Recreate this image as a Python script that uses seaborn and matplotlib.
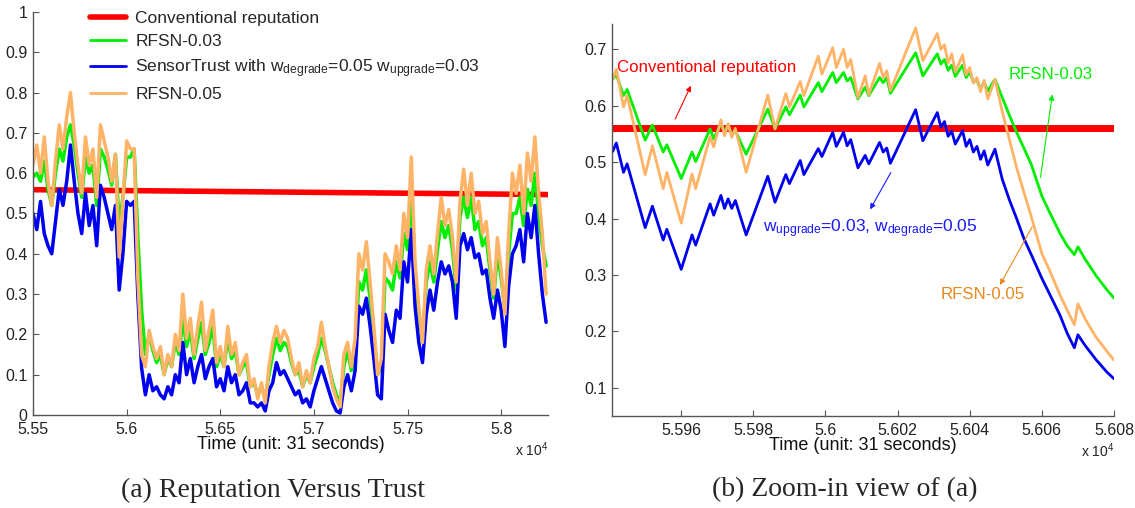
import numpy as np
import pandas as pd
import matplotlib
matplotlib.use("Agg")
import matplotlib.pyplot as plt
import seaborn as sns
from matplotlib.ticker import FixedLocator, FuncFormatter
from matplotlib.lines import Line2D

# ---------------- data : panel (a) ----------------
TIME_L = np.arange(55500, 58241, 20)
RED_L_T = [55500, 58250]
RED_L_V = [0.559, 0.547]
ORANGE_L = [0.62, 0.67, 0.60, 0.69, 0.58, 0.52, 0.63, 0.72, 0.66, 0.74,
            0.80, 0.70, 0.62, 0.55, 0.69, 0.62, 0.66, 0.54, 0.72, 0.68,
            0.64, 0.58, 0.647, 0.392, 0.53, 0.68, 0.66, 0.66, 0.338, 0.149,
            0.12, 0.21, 0.17, 0.14, 0.17, 0.10, 0.15, 0.12, 0.20, 0.16,
            0.30, 0.19, 0.24, 0.15, 0.22, 0.28, 0.16, 0.21, 0.26, 0.13,
            0.17, 0.12, 0.22, 0.15, 0.18, 0.10, 0.13, 0.15, 0.07, 0.09,
            0.04, 0.08, 0.03, 0.12, 0.18, 0.22, 0.18, 0.21, 0.19, 0.14,
            0.10, 0.13, 0.07, 0.11, 0.08, 0.14, 0.17, 0.23, 0.17, 0.12,
            0.07, 0.04, 0.02, 0.15, 0.18, 0.12, 0.19, 0.40, 0.36, 0.43,
            0.33, 0.22, 0.10, 0.14, 0.40, 0.38, 0.35, 0.42, 0.36, 0.50,
            0.44, 0.64, 0.38, 0.27, 0.18, 0.36, 0.42, 0.35, 0.45, 0.54,
            0.47, 0.51, 0.44, 0.33, 0.53, 0.61, 0.52, 0.60, 0.50, 0.53,
            0.45, 0.48, 0.38, 0.30, 0.44, 0.36, 0.25, 0.45, 0.60, 0.55,
            0.62, 0.50, 0.65, 0.58, 0.69, 0.55, 0.45, 0.30]
GREEN_L = [0.59, 0.60, 0.58, 0.63, 0.56, 0.52, 0.60, 0.66, 0.63, 0.69,
           0.72, 0.67, 0.60, 0.54, 0.64, 0.60, 0.62, 0.52, 0.66, 0.64,
           0.61, 0.57, 0.647, 0.471, 0.54, 0.64, 0.64, 0.66, 0.44, 0.259,
           0.15, 0.20, 0.16, 0.13, 0.15, 0.10, 0.14, 0.12, 0.18, 0.15,
           0.24, 0.17, 0.21, 0.14, 0.19, 0.23, 0.15, 0.18, 0.22, 0.12,
           0.15, 0.12, 0.19, 0.14, 0.16, 0.10, 0.12, 0.13, 0.07, 0.08,
           0.05, 0.07, 0.04, 0.10, 0.15, 0.19, 0.16, 0.18, 0.17, 0.13,
           0.10, 0.11, 0.07, 0.10, 0.08, 0.12, 0.15, 0.19, 0.16, 0.12,
           0.08, 0.05, 0.03, 0.12, 0.16, 0.11, 0.16, 0.33, 0.31, 0.36,
           0.29, 0.20, 0.10, 0.12, 0.34, 0.33, 0.31, 0.38, 0.34, 0.45,
           0.41, 0.55, 0.35, 0.25, 0.18, 0.33, 0.38, 0.33, 0.41, 0.48,
           0.44, 0.47, 0.41, 0.31, 0.49, 0.54, 0.49, 0.54, 0.46, 0.48,
           0.42, 0.44, 0.36, 0.29, 0.40, 0.34, 0.26, 0.40, 0.50, 0.50,
           0.54, 0.47, 0.56, 0.52, 0.60, 0.50, 0.42, 0.37]
BLUE_L = [0.50, 0.46, 0.53, 0.45, 0.42, 0.40, 0.48, 0.56, 0.52, 0.58,
          0.67, 0.58, 0.50, 0.45, 0.55, 0.47, 0.52, 0.42, 0.57, 0.54,
          0.50, 0.46, 0.52, 0.310, 0.40, 0.53, 0.52, 0.53, 0.294, 0.116,
          0.05, 0.10, 0.06, 0.07, 0.05, 0.04, 0.07, 0.05, 0.10, 0.08,
          0.18, 0.10, 0.14, 0.08, 0.12, 0.15, 0.09, 0.12, 0.14, 0.07,
          0.09, 0.06, 0.12, 0.08, 0.10, 0.05, 0.06, 0.08, 0.03, 0.03,
          0.02, 0.03, 0.01, 0.06, 0.08, 0.13, 0.10, 0.11, 0.09, 0.07,
          0.05, 0.06, 0.03, 0.04, 0.02, 0.06, 0.09, 0.12, 0.09, 0.06,
          0.03, 0.01, 0.005, 0.07, 0.10, 0.06, 0.11, 0.27, 0.25, 0.29,
          0.22, 0.14, 0.05, 0.04, 0.25, 0.21, 0.18, 0.26, 0.24, 0.38,
          0.33, 0.46, 0.27, 0.18, 0.13, 0.25, 0.31, 0.26, 0.33, 0.38,
          0.35, 0.37, 0.33, 0.24, 0.42, 0.45, 0.41, 0.44, 0.39, 0.40,
          0.35, 0.36, 0.29, 0.24, 0.31, 0.26, 0.17, 0.32, 0.40, 0.42,
          0.46, 0.38, 0.50, 0.44, 0.52, 0.40, 0.30, 0.23]

# ---------------- data : panel (b) ----------------
TIME_R = [55941, 55942, 55944, 55945, 55950, 55952, 55955, 55956, 55960, 55963,
          55964, 55968, 55969, 55971, 55972, 55973, 55974, 55975, 55978, 55984,
          55986, 55989, 55990, 55993, 55994, 55998, 55999, 56002, 56003, 56005,
          56006, 56007, 56009, 56011, 56012, 56015, 56016, 56017, 56018, 56025,
          56027, 56031, 56032, 56033, 56034, 56035, 56036, 56038, 56039, 56040,
          56041, 56042, 56043, 56044, 56045, 56047, 56049, 56051, 56053, 56055,
          56057, 56060, 56062, 56065, 56067, 56069, 56070, 56072, 56075, 56078,
          56080]
GREEN_R = [0.647, 0.655, 0.618, 0.629, 0.539, 0.566, 0.518, 0.531, 0.471, 0.518,
           0.501, 0.559, 0.541, 0.568, 0.555, 0.566, 0.549, 0.556, 0.514, 0.594,
           0.559, 0.598, 0.584, 0.619, 0.598, 0.641, 0.625, 0.659, 0.641, 0.659,
           0.644, 0.650, 0.612, 0.633, 0.618, 0.650, 0.641, 0.650, 0.622, 0.694,
           0.653, 0.692, 0.674, 0.682, 0.663, 0.672, 0.652, 0.672, 0.650, 0.660,
           0.642, 0.645, 0.630, 0.642, 0.626, 0.647, 0.615, 0.583, 0.553, 0.525,
           0.497, 0.440, 0.413, 0.374, 0.352, 0.336, 0.350, 0.328, 0.299, 0.274,
           0.259]
ORANGE_R = [0.647, 0.665, 0.598, 0.618, 0.478, 0.529, 0.453, 0.482, 0.392, 0.479,
            0.453, 0.545, 0.527, 0.575, 0.547, 0.568, 0.544, 0.560, 0.482, 0.619,
            0.559, 0.622, 0.598, 0.643, 0.618, 0.688, 0.656, 0.703, 0.668, 0.700,
            0.668, 0.682, 0.614, 0.653, 0.620, 0.675, 0.650, 0.662, 0.627, 0.738,
            0.680, 0.728, 0.700, 0.708, 0.676, 0.692, 0.660, 0.690, 0.655, 0.668,
            0.640, 0.650, 0.625, 0.645, 0.612, 0.647, 0.590, 0.540, 0.490, 0.447,
            0.405, 0.338, 0.310, 0.265, 0.238, 0.212, 0.249, 0.222, 0.190, 0.165,
            0.149]
BLUE_R = [0.519, 0.534, 0.482, 0.497, 0.384, 0.422, 0.362, 0.381, 0.310, 0.371,
          0.353, 0.426, 0.406, 0.441, 0.418, 0.435, 0.418, 0.432, 0.371, 0.475,
          0.429, 0.478, 0.462, 0.503, 0.478, 0.524, 0.510, 0.553, 0.528, 0.553,
          0.529, 0.540, 0.490, 0.512, 0.497, 0.535, 0.518, 0.525, 0.498, 0.593,
          0.538, 0.588, 0.562, 0.572, 0.546, 0.555, 0.532, 0.556, 0.528, 0.540,
          0.518, 0.528, 0.505, 0.520, 0.495, 0.523, 0.470, 0.433, 0.400, 0.365,
          0.337, 0.294, 0.268, 0.229, 0.197, 0.171, 0.194, 0.175, 0.150, 0.128,
          0.116]
RED_R_T = [55940.8, 56080]
RED_R_V = [0.56, 0.56]

LABELS = ["Conventional reputation", "RFSN-0.03",
          "SensorTrust with w$_{degrade}$=0.05 w$_{upgrade}$=0.03", "RFSN-0.05"]
XT_L = [55500, 56000, 56500, 57000, 57500, 58000]
YT_L = [0, 0.1, 0.2, 0.3, 0.4, 0.5, 0.6, 0.7, 0.8, 0.9, 1.0]
XT_R = [55960, 55980, 56000, 56020, 56040, 56060, 56080]
YT_R = [0.1, 0.2, 0.3, 0.4, 0.5, 0.6, 0.7]

C_RED = "#ff0000"
C_GREEN = "#00ee00"
C_BLUE = "#0000f0"
C_ORANGE = "#ffb366"
C_ORANGE_TXT = "#e8891f"

sns.set_style("white")
plt.rcParams["font.family"] = ["Liberation Sans", "DejaVu Sans"]
plt.rcParams["mathtext.default"] = "regular"

fig = plt.figure(figsize=(11.35, 5.08), dpi=100)
axL = fig.add_axes([0.0291, 0.1831, 0.4537, 0.7933])
axR = fig.add_axes([0.5392, 0.1811, 0.4423, 0.7717])


def draw(ax, t_red, v_red, t, g, b, o, lw, lw_red):
    sns.lineplot(x=t_red, y=v_red, ax=ax, color=C_RED, lw=lw_red, estimator=None, sort=False)
    sns.lineplot(x=t, y=g, ax=ax, color=C_GREEN, lw=lw, estimator=None, sort=False)
    sns.lineplot(x=t, y=b, ax=ax, color=C_BLUE, lw=lw, estimator=None, sort=False)
    sns.lineplot(x=t, y=o, ax=ax, color=C_ORANGE, lw=lw, estimator=None, sort=False)


draw(axL, RED_L_T, RED_L_V, TIME_L, GREEN_L, BLUE_L, ORANGE_L, 2.5, 4.0)
draw(axR, RED_R_T, RED_R_V, TIME_R, GREEN_R, BLUE_R, ORANGE_R, 2.0, 5.0)

fmt = FuncFormatter(lambda v, p: f"{v / 1e4:g}")
gfmt = FuncFormatter(lambda v, p: f"{v:g}")

for ax, xt, yt, xl, yl, xoff in [(axL, XT_L, YT_L, (55500, 58250), (0, 1), -0.085),
                                 (axR, XT_R, YT_R, (55940.8, 56080), (0.05, 0.745), -0.088)]:
    ax.set_xlim(*xl)
    ax.set_ylim(*yl)
    ax.xaxis.set_major_locator(FixedLocator(xt))
    ax.yaxis.set_major_locator(FixedLocator(yt))
    ax.xaxis.set_major_formatter(fmt)
    ax.yaxis.set_major_formatter(gfmt)
    for s in ["top", "right"]:
        ax.spines[s].set_visible(False)
    for s in ["left", "bottom"]:
        ax.spines[s].set_color("#555555")
        ax.spines[s].set_linewidth(1.0)
    ax.tick_params(direction="in", length=4, width=0.8, color="#555555",
                   labelsize=11.5, labelcolor="#222222",
                   bottom=True, left=True, top=False, right=False)
    ax.tick_params(axis="x", pad=5)
    ax.tick_params(axis="y", pad=4)
    ax.set_xlabel("Time (unit: 31 seconds)", fontsize=13, color="#111111", labelpad=-1)
    ax.set_ylabel("")
    ax.text(1.0, xoff, "x 10$^4$", transform=ax.transAxes, ha="right", va="center",
            fontsize=10, color="#222222")

handles = [Line2D([], [], color=C_RED, lw=4.0),
           Line2D([], [], color=C_GREEN, lw=2.0),
           Line2D([], [], color=C_BLUE, lw=2.0),
           Line2D([], [], color=C_ORANGE, lw=2.0)]
axL.legend(handles, LABELS, loc="upper left", bbox_to_anchor=(90 / 1135, 1 - 11 / 508),
           bbox_transform=fig.transFigure, frameon=False, fontsize=12.5,
           handlelength=2.1, handletextpad=0.5, labelspacing=0.45,
           borderaxespad=0, borderpad=0)

# annotations panel (b)
axR.text(55942.2, 0.668, "Conventional reputation", color=C_RED, fontsize=12.2,
         ha="left", va="center")
axR.annotate("", xy=(55963, 0.64), xytext=(55958, 0.572),
             arrowprops=dict(arrowstyle="-|>", color=C_RED, lw=0.8, mutation_scale=8))
axR.text(56050.8, 0.655, "RFSN-0.03", color=C_GREEN, fontsize=12.2, ha="left", va="center")
axR.annotate("", xy=(56063, 0.625), xytext=(56059.5, 0.468),
             arrowprops=dict(arrowstyle="-|>", color=C_GREEN, lw=0.8, mutation_scale=8))
axR.text(55982.8, 0.375, "w$_{upgrade}$=0.03, w$_{degrade}$=0.05", color="#1a1aff",
         fontsize=12.5, ha="left", va="baseline")
axR.annotate("", xy=(56012, 0.412), xytext=(56018.5, 0.486),
             arrowprops=dict(arrowstyle="-|>", color="#1a1aff", lw=0.8, mutation_scale=8))
axR.text(56032, 0.265, "RFSN-0.05", color=C_ORANGE_TXT, fontsize=12.2, ha="left", va="center")
axR.annotate("", xy=(56048, 0.278), xytext=(56057.7, 0.39),
             arrowprops=dict(arrowstyle="-|>", color=C_ORANGE_TXT, lw=0.8, mutation_scale=8))

fig.text(273 / 1135, 1 - 490 / 508, "(a) Reputation Versus Trust", ha="center", va="center",
         family=["Liberation Serif", "DejaVu Serif"], fontsize=20)
fig.text(845 / 1135, 1 - 490 / 508, "(b) Zoom-in view of (a)", ha="center", va="center",
         family=["Liberation Serif", "DejaVu Serif"], fontsize=20)

fig.savefig("out.png", dpi=100, facecolor="white")
